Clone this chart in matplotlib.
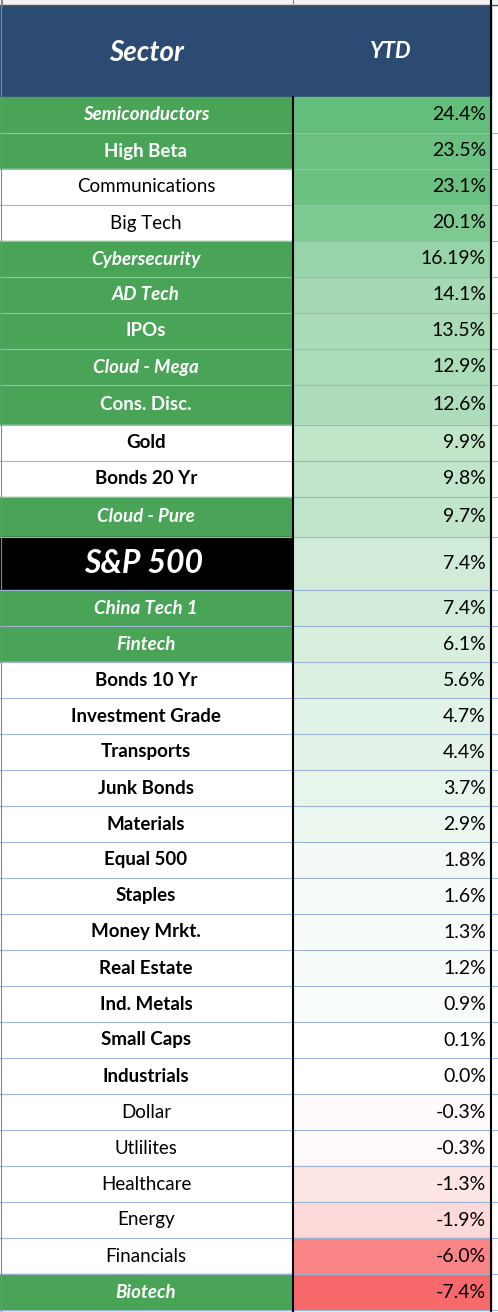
import matplotlib.pyplot as plt
from matplotlib.patches import Rectangle

sectors = ['Semiconductors', 'High Beta', 'Communications', 'Big Tech', 'Cybersecurity',
           'AD Tech', 'IPOs', 'Cloud - Mega', 'Cons. Disc.', 'Gold', 'Bonds 20 Yr',
           'Cloud - Pure', 'S&P 500', 'China Tech 1', 'Fintech', 'Bonds 10 Yr',
           'Investment Grade', 'Transports', 'Junk Bonds', 'Materials', 'Equal 500',
           'Staples', 'Money Mrkt.', 'Real Estate', 'Ind. Metals', 'Small Caps',
           'Industrials', 'Dollar', 'Utlilites', 'Healthcare', 'Energy', 'Financials',
           'Biotech']
ytd = [24.4, 23.5, 23.1, 20.1, 16.19, 14.1, 13.5, 12.9, 12.6, 9.9, 9.8, 9.7, 7.4, 7.4,
       6.1, 5.6, 4.7, 4.4, 3.7, 2.9, 1.8, 1.6, 1.3, 1.2, 0.9, 0.1, 0.0, -0.3, -0.3,
       -1.3, -1.9, -6.0, -7.4]
ytd_labels = ['16.19%' if v == 16.19 else f'{v:.1f}%' for v in ytd]
# label style: g = green/white italic, G = green/white bold, n = plain, b = bold, s = S&P
styles = ['g', 'G', 'n', 'n', 'g', 'g', 'G', 'g', 'G', 'b', 'b', 'g', 's', 'g', 'g',
          'b', 'b', 'b', 'b', 'b', 'b', 'b', 'b', 'b', 'b', 'b', 'b', 'n', 'n', 'n',
          'n', 'n', 'g']

W, H = 498, 1312
heights = [36] * 8 + [40, 36, 36, 40, 53] + [36] * 20
GREEN = '#4aa457'
GRID = '#9db4d6'


def value_color(v):
    white = (1, 1, 1)
    if v >= 0:
        top, t = (0.388, 0.745, 0.482), v / max(ytd)
    else:
        top, t = (0.973, 0.412, 0.420), v / min(ytd)
    return tuple(w + (c - w) * t for w, c in zip(white, top))


fig = plt.figure(figsize=(W / 100, H / 100), dpi=100)
ax = fig.add_axes([0, 0, 1, 1])
ax.set_xlim(0, W)
ax.set_ylim(H, 0)
ax.axis('off')

font = 'Lato'
x_div, x_right = 293, 491

# top strip and header
ax.add_patch(Rectangle((0, 0), W, 6, color='#f2f2f2'))
ax.plot([0, W], [5, 5], color='#555555', lw=1)
for x in (2, 293, 491):
    ax.plot([x, x], [0, 5], color='#888888', lw=0.8)
ax.add_patch(Rectangle((0, 6), x_right, 91, color='#2c4b73'))
ax.text(146, 53, 'Sector', color='white', fontsize=20, fontweight='bold', style='italic',
        ha='center', va='center', family=font)
ax.text(391, 52, 'YTD', color='white', fontsize=16, fontweight='bold', style='italic',
        ha='center', va='center', family=font)

y = 97
for name, lab, st, v, h in zip(sectors, ytd_labels, styles, ytd, heights):
    bg = {'g': GREEN, 'G': GREEN, 's': 'black'}.get(st, 'white')
    ax.add_patch(Rectangle((0, y), x_div, h, color=bg))
    ax.add_patch(Rectangle((x_div, y), x_right - x_div, h, color=value_color(v)))
    ax.plot([0, W], [y + h, y + h], color=GRID, lw=0.8)
    kw = dict(ha='center', va='center', family=font)
    if st == 'g':
        ax.text(146, y + h / 2, name, color='white', fontsize=13.5, fontweight='bold',
                style='italic', **kw)
    elif st == 'G':
        ax.text(146, y + h / 2, name, color='white', fontsize=13.5, fontweight='bold', **kw)
    elif st == 's':
        ax.text(144, y + h / 2, name, color='white', fontsize=23, fontweight='bold',
                style='italic', **kw)
    elif st == 'b':
        ax.text(146, y + h / 2, name, color='black', fontsize=13.5, fontweight='bold', **kw)
    else:
        ax.text(146, y + h / 2, name, color='black', fontsize=13.5, **kw)
    ax.text(486, y + h / 2, lab, color='black', fontsize=14, ha='right', va='center',
            family=font)
    y += h

ax.plot([x_div, x_div], [97, H], color='black', lw=1.5)
ax.plot([x_right, x_right], [0, H], color='black', lw=1.5)
ax.plot([1, 1], [0, H], color='#888888', lw=0.8)

fig.savefig('out.png', dpi=100)
